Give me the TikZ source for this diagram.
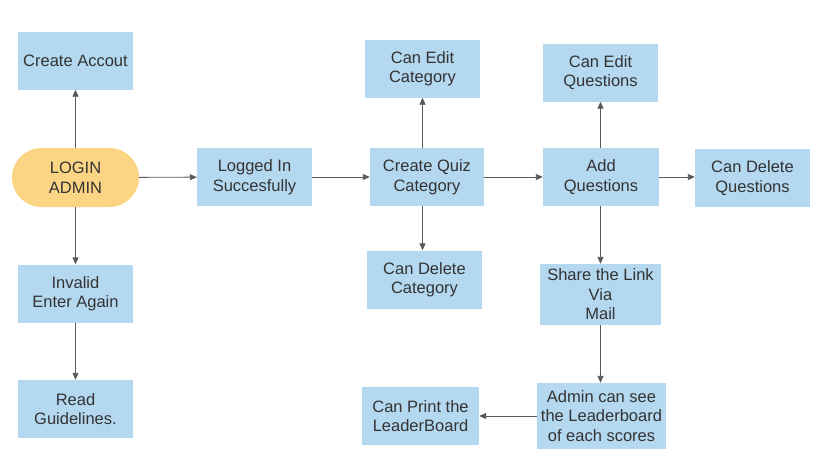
\documentclass[tikz,border=0pt]{standalone}
\usepackage{fontspec}
\setmainfont{Liberation Sans}
\usetikzlibrary{arrows.meta,shapes.misc}
\definecolor{boxblue}{HTML}{B4D8EF}
\definecolor{boxorange}{HTML}{FCD584}
\definecolor{txt}{HTML}{333333}
\definecolor{ln}{HTML}{595959}
\begin{document}
\begin{tikzpicture}[x=1pt,y=-1pt,
  every node/.style={font=\fontsize{16.5}{19.5}\selectfont, text=txt, align=center, inner sep=0pt},
  bx/.style={fill=boxblue, minimum width=#1, minimum height=58},
  bx/.default=115,
  arr/.style={draw=ln, line width=0.9pt, -{Triangle[length=7pt,width=6pt]}}]
\useasboundingbox (0,0) rectangle (836,471);
\node[bx] (acc) at (75.5,60.5) {Create Accout};
\node[fill=boxorange, rounded rectangle, minimum width=127, minimum height=59] (login) at (75.5,177.5) {LOGIN\\ADMIN};
\node[bx] (inv) at (75.5,293.5) {Invalid\\Enter Again};
\node[bx] (read) at (75.5,409) {Read\\Guidelines.};
\node[bx] (logged) at (254.5,177) {Logged In\\Succesfully};
\node[bx=114] (cq) at (427,177) {Create Quiz\\Category};
\node[bx] (ec) at (422.5,68.5) {Can Edit\\Category};
\node[bx] (dc) at (424.5,279.5) {Can Delete\\Category};
\node[bx=116] (aq) at (601,177) {Add\\Questions};
\node[bx] (eq) at (600.5,72.5) {Can Edit\\Questions};
\node[bx] (dq) at (752.5,178) {Can Delete\\Questions};
\node[bx=121, minimum height=61] (share) at (600.5,294.5) {Share the Link\\Via\\Mail};
\node[bx=129, minimum height=66] (admin) at (601.5,416) {Admin can see\\the Leaderboard\\of each scores};
\node[bx=117] (print) at (420.5,416) {Can Print the\\LeaderBoard};

\draw[arr] (login) -- (acc);
\draw[arr] (login) -- (inv);
\draw[arr] (inv) -- (read);
\draw[arr] (login) -- (logged);
\draw[arr] (logged) -- (cq);
\draw[arr] (cq.north -| ec) -- (ec);
\draw[arr] (cq.south -| ec) -- (dc.north -| ec);
\draw[arr] (cq) -- (aq);
\draw[arr] (aq.north -| eq) -- (eq);
\draw[arr] (aq) -- (aq -| dq.west);
\draw[arr] (aq.south -| share) -- (share);
\draw[arr] (share) -- (share |- admin.north);
\draw[arr] (admin) -- (print);
\end{tikzpicture}
\end{document}
